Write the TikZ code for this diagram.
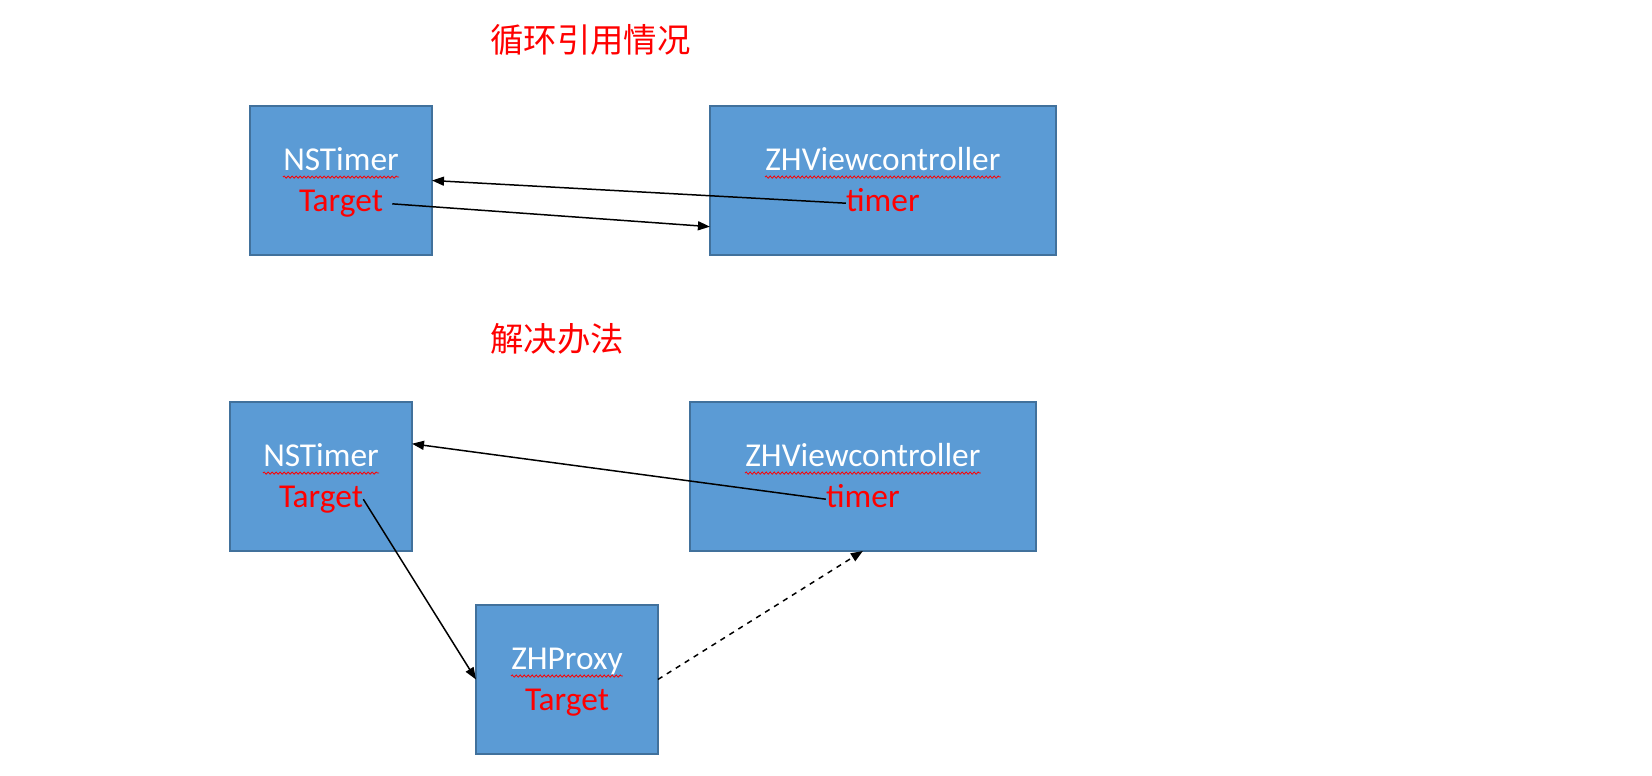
\documentclass[tikz,border=0pt]{standalone}
\usepackage{fontspec}
\setmainfont{Carlito}
\newfontfamily\cjk{Noto Sans CJK SC}
\usepackage{tikz}
\usetikzlibrary{
	arrows.meta,
	positioning,
	calc,
	decorations.pathmorphing
}
\definecolor{boxblue}{HTML}{5B9BD5}
\definecolor{boxedge}{HTML}{41719C}
\definecolor{lblred}{HTML}{FF0000}

\begin{document}
\begin{tikzpicture}[
			x=0.02cm, y=-0.02cm,
			font=\fontsize{19}{23}\selectfont,
			blk/.style={draw=boxedge, line width=0.85pt, fill=boxblue, minimum width=3.64cm, minimum height=2.98cm, inner sep=0pt, outer sep=0pt},
			wblk/.style={blk, minimum width=6.92cm},
			cls/.style={text=white, inner sep=0pt, text height=0.45cm, text depth=0.12cm},
			ref/.style={text=lblred, inner sep=0pt, text height=0.45cm, text depth=0.12cm},
			ttl/.style={text=lblred, font=\cjk\fontsize{19}{23}\selectfont, anchor=west, inner sep=0pt},
			wavy/.style={draw=lblred, line width=0.45pt, decorate, decoration={snake, segment length=0.08cm, amplitude=0.022cm}},
			fl/.style={-{Triangle[length=0.24cm, width=0.18cm]}, line width=0.85pt}
		]
		\useasboundingbox (0,0) rectangle (1652,776);

		% ciclo
		\node[ttl] (t1) at (490,40) {循环引用情况};
		\node[blk] (tmA) at (341,180.5) {};
		\node[wblk, right=5.56cm of tmA] (vcA) {};
		\node[cls] (nmA) at ([yshift=0.36cm]tmA.center) {NSTimer};
		\node[ref, below=0.23cm of nmA] (tgA) {Target};
		\node[cls] (nmB) at ([yshift=0.36cm]vcA.center) {ZHViewcontroller};
		\node[ref, below=0.23cm of nmB] (tiB) {timer};

		% solucao
		\node[ttl] (t2) at (490,339) {解决办法};
		\node[blk] (tmC) at (321,476.5) {};
		\node[wblk, right=5.56cm of tmC] (vcD) {};
		\node[blk, below right=1.08cm and 1.28cm of tmC] (pxE) {};
		\node[cls] (nmC) at ([yshift=0.36cm]tmC.center) {NSTimer};
		\node[ref, below=0.23cm of nmC] (tgC) {Target};
		\node[cls] (nmD) at ([yshift=0.36cm]vcD.center) {ZHViewcontroller};
		\node[ref, below=0.23cm of nmD] (tiD) {timer};
		\node[cls] (nmE) at ([yshift=0.36cm]pxE.center) {ZHProxy};
		\node[ref, below=0.23cm of nmE] (tgE) {Target};

		\foreach \n in {nmA,nmB,nmC,nmD,nmE}
			\draw[wavy] (\n.south west) -- (\n.south east);

		\draw[fl] (tiB.west) -- (tmA.east);
		\draw[fl, shorten <=0.18cm] (tgA.east) -- ($(vcA.west)!0.62!(vcA.south west)$);
		\draw[fl] (tiD.west) -- ($(tmC.east)!0.44!(tmC.north east)$);
		\draw[fl] (tgC.east) -- (pxE.west);
		\draw[fl, dashed] (pxE.east) -- (vcD.south);
	\end{tikzpicture}
\end{document}
